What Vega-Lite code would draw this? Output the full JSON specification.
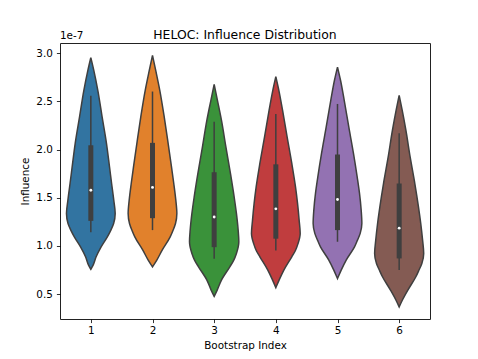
{
  "$schema": "https://vega.github.io/schema/vega-lite/v6.json",
  "width": 370,
  "height": 276,
  "autosize": {"type": "none"},
  "padding": {"left": 60, "top": 43, "right": 48, "bottom": 40},
  "background": "white",
  "config": {
    "font": "DejaVu Sans",
    "view": {"stroke": "#222", "strokeWidth": 1},
    "axis": {
      "grid": false,
      "domain": false,
      "labelFont": "DejaVu Sans",
      "labelFontSize": 10.4,
      "labelColor": "#000",
      "tickColor": "#000",
      "tickSize": 3.6,
      "tickWidth": 0.8,
      "titleFont": "DejaVu Sans",
      "titleFontSize": 10.4,
      "titleFontWeight": "normal",
      "titleColor": "#000"
    }
  },
  "title": {
    "text": "HELOC: Influence Distribution",
    "font": "DejaVu Sans",
    "fontSize": 12.4,
    "fontWeight": "normal",
    "color": "#000",
    "anchor": "middle",
    "frame": "group",
    "offset": -10
  },
  "datasets": {
    "violins": [
      {"b": 1, "v": 2.955, "w": 0},
      {"b": 1, "v": 2.82, "w": 0.049},
      {"b": 1, "v": 2.616, "w": 0.113},
      {"b": 1, "v": 2.34, "w": 0.183},
      {"b": 1, "v": 2.063, "w": 0.254},
      {"b": 1, "v": 1.82, "w": 0.303},
      {"b": 1, "v": 1.648, "w": 0.337},
      {"b": 1, "v": 1.475, "w": 0.372},
      {"b": 1, "v": 1.337, "w": 0.395},
      {"b": 1, "v": 1.233, "w": 0.37},
      {"b": 1, "v": 1.164, "w": 0.325},
      {"b": 1, "v": 1.094, "w": 0.268},
      {"b": 1, "v": 0.99, "w": 0.167},
      {"b": 1, "v": 0.887, "w": 0.086},
      {"b": 1, "v": 0.8, "w": 0.037},
      {"b": 1, "v": 0.757, "w": 0},

      {"b": 2, "v": 2.979, "w": 0},
      {"b": 2, "v": 2.82, "w": 0.053},
      {"b": 2, "v": 2.616, "w": 0.118},
      {"b": 2, "v": 2.34, "w": 0.19},
      {"b": 2, "v": 2.063, "w": 0.254},
      {"b": 2, "v": 1.82, "w": 0.308},
      {"b": 2, "v": 1.648, "w": 0.345},
      {"b": 2, "v": 1.475, "w": 0.378},
      {"b": 2, "v": 1.337, "w": 0.395},
      {"b": 2, "v": 1.233, "w": 0.373},
      {"b": 2, "v": 1.16, "w": 0.332},
      {"b": 2, "v": 1.094, "w": 0.287},
      {"b": 2, "v": 0.956, "w": 0.157},
      {"b": 2, "v": 0.853, "w": 0.07},
      {"b": 2, "v": 0.783, "w": 0},

      {"b": 3, "v": 2.678, "w": 0},
      {"b": 3, "v": 2.512, "w": 0.053},
      {"b": 3, "v": 2.305, "w": 0.118},
      {"b": 3, "v": 2.028, "w": 0.19},
      {"b": 3, "v": 1.752, "w": 0.264},
      {"b": 3, "v": 1.509, "w": 0.324},
      {"b": 3, "v": 1.337, "w": 0.361},
      {"b": 3, "v": 1.164, "w": 0.389},
      {"b": 3, "v": 1.043, "w": 0.4},
      {"b": 3, "v": 0.922, "w": 0.361},
      {"b": 3, "v": 0.85, "w": 0.316},
      {"b": 3, "v": 0.783, "w": 0.254},
      {"b": 3, "v": 0.645, "w": 0.118},
      {"b": 3, "v": 0.541, "w": 0.049},
      {"b": 3, "v": 0.476, "w": 0},

      {"b": 4, "v": 2.758, "w": 0},
      {"b": 4, "v": 2.616, "w": 0.049},
      {"b": 4, "v": 2.409, "w": 0.109},
      {"b": 4, "v": 2.132, "w": 0.183},
      {"b": 4, "v": 1.856, "w": 0.259},
      {"b": 4, "v": 1.613, "w": 0.319},
      {"b": 4, "v": 1.441, "w": 0.352},
      {"b": 4, "v": 1.268, "w": 0.378},
      {"b": 4, "v": 1.13, "w": 0.395},
      {"b": 4, "v": 1.026, "w": 0.361},
      {"b": 4, "v": 0.95, "w": 0.316},
      {"b": 4, "v": 0.887, "w": 0.259},
      {"b": 4, "v": 0.749, "w": 0.13},
      {"b": 4, "v": 0.645, "w": 0.053},
      {"b": 4, "v": 0.567, "w": 0},

      {"b": 5, "v": 2.857, "w": 0},
      {"b": 5, "v": 2.72, "w": 0.049},
      {"b": 5, "v": 2.512, "w": 0.109},
      {"b": 5, "v": 2.235, "w": 0.183},
      {"b": 5, "v": 1.96, "w": 0.259},
      {"b": 5, "v": 1.717, "w": 0.319},
      {"b": 5, "v": 1.545, "w": 0.357},
      {"b": 5, "v": 1.371, "w": 0.384},
      {"b": 5, "v": 1.233, "w": 0.395},
      {"b": 5, "v": 1.13, "w": 0.368},
      {"b": 5, "v": 1.06, "w": 0.324},
      {"b": 5, "v": 0.99, "w": 0.276},
      {"b": 5, "v": 0.853, "w": 0.141},
      {"b": 5, "v": 0.749, "w": 0.06},
      {"b": 5, "v": 0.661, "w": 0},

      {"b": 6, "v": 2.563, "w": 0},
      {"b": 6, "v": 2.409, "w": 0.049},
      {"b": 6, "v": 2.201, "w": 0.109},
      {"b": 6, "v": 1.924, "w": 0.178},
      {"b": 6, "v": 1.648, "w": 0.254},
      {"b": 6, "v": 1.406, "w": 0.313},
      {"b": 6, "v": 1.233, "w": 0.35},
      {"b": 6, "v": 1.06, "w": 0.38},
      {"b": 6, "v": 0.922, "w": 0.398},
      {"b": 6, "v": 0.818, "w": 0.368},
      {"b": 6, "v": 0.75, "w": 0.322},
      {"b": 6, "v": 0.68, "w": 0.271},
      {"b": 6, "v": 0.541, "w": 0.141},
      {"b": 6, "v": 0.438, "w": 0.053},
      {"b": 6, "v": 0.366, "w": 0}
    ],
    "stats": [
      {"b": 1, "wlo": 1.143, "q1": 1.26, "med": 1.578, "q3": 2.045, "whi": 2.56},
      {"b": 2, "wlo": 1.164, "q1": 1.288, "med": 1.607, "q3": 2.07, "whi": 2.603},
      {"b": 3, "wlo": 0.866, "q1": 0.987, "med": 1.3, "q3": 1.765, "whi": 2.29},
      {"b": 4, "wlo": 0.952, "q1": 1.075, "med": 1.385, "q3": 1.847, "whi": 2.37},
      {"b": 5, "wlo": 1.043, "q1": 1.164, "med": 1.482, "q3": 1.949, "whi": 2.474},
      {"b": 6, "wlo": 0.749, "q1": 0.87, "med": 1.184, "q3": 1.648, "whi": 2.17}
    ],
    "note": [{"t": "1e-7"}]
  },
  "layer": [
    {
      "data": {"name": "violins"},
      "transform": [
        {"calculate": "datum.b - datum.w", "as": "lo"},
        {"calculate": "datum.b + datum.w", "as": "hi"}
      ],
      "mark": {"type": "area", "orient": "horizontal", "interpolate": "monotone", "stroke": "#3f3f3f", "strokeWidth": 1.5, "fillOpacity": 1},
      "encoding": {
        "y": {"field": "v", "type": "quantitative", "title": "Influence",
              "scale": {"domain": [0.241, 3.107], "nice": false, "zero": false},
              "axis": {"values": [0.5, 1.0, 1.5, 2.0, 2.5, 3.0], "format": ".1f", "labelPadding": 4, "titlePadding": 5}},
        "x": {"field": "lo", "type": "quantitative", "title": "Bootstrap Index",
              "scale": {"domain": [0.5, 6.5], "nice": false, "zero": false},
              "axis": {"values": [1, 2, 3, 4, 5, 6], "format": "d", "labelPadding": 3, "titlePadding": 4}},
        "x2": {"field": "hi"},
        "fill": {"field": "b", "type": "nominal", "legend": null,
                 "scale": {"domain": [1, 2, 3, 4, 5, 6], "range": ["#3274a1", "#e1812c", "#3a923a", "#c03d3e", "#9372b2", "#845b53"]}}
      }
    },
    {
      "data": {"name": "stats"},
      "mark": {"type": "rule", "color": "#3f3f3f", "strokeWidth": 1.5},
      "encoding": {
        "x": {"field": "b", "type": "quantitative", "title": "Bootstrap Index"},
        "y": {"field": "wlo", "type": "quantitative", "title": "Influence"},
        "y2": {"field": "whi"}
      }
    },
    {
      "data": {"name": "stats"},
      "mark": {"type": "rule", "color": "#3f3f3f", "strokeWidth": 5},
      "encoding": {
        "x": {"field": "b", "type": "quantitative", "title": "Bootstrap Index"},
        "y": {"field": "q1", "type": "quantitative", "title": "Influence"},
        "y2": {"field": "q3"}
      }
    },
    {
      "data": {"name": "stats"},
      "mark": {"type": "point", "filled": true, "color": "white", "size": 8, "opacity": 1},
      "encoding": {
        "x": {"field": "b", "type": "quantitative", "title": "Bootstrap Index"},
        "y": {"field": "med", "type": "quantitative", "title": "Influence"}
      }
    },
    {
      "data": {"name": "note"},
      "mark": {"type": "text", "align": "left", "baseline": "middle", "fontSize": 10.4, "color": "#000", "font": "DejaVu Sans"},
      "encoding": {
        "x": {"datum": 0.5},
        "y": {"datum": 3.175},
        "text": {"field": "t"}
      }
    }
  ]
}
